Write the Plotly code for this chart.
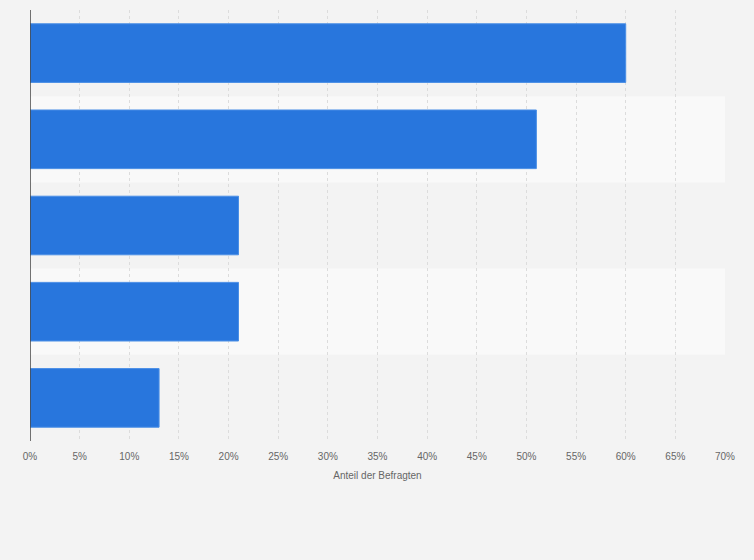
import plotly.graph_objects as go

categories = ["Kategorie 1", "Kategorie 2", "Kategorie 3", "Kategorie 4", "Kategorie 5"]
values = [60, 51, 21, 21, 13]
tick_vals = list(range(0, 75, 5))
tick_text = [f"{v}%" for v in tick_vals]

fig = go.Figure()
fig.add_trace(go.Bar(
    x=values, y=categories, orientation="h",
    marker=dict(color="#2876dd", line=dict(color="#4a8fe6", width=1)),
    width=0.68, hoverinfo="x+y",
))

shapes = []
for i, c in enumerate(categories):
    if i % 2 == 1:
        shapes.append(dict(type="rect", xref="x", yref="y", x0=0, x1=70,
                           y0=i - 0.5, y1=i + 0.5, fillcolor="#f9f9f9",
                           line=dict(width=0), layer="below"))

fig.update_layout(
    width=754, height=560,
    paper_bgcolor="#f3f3f3", plot_bgcolor="#f3f3f3",
    margin=dict(l=30, r=29, t=10, b=119),
    showlegend=False,
    shapes=shapes,
    font=dict(family="Liberation Sans, Arial, sans-serif", color="#666666", size=10),
    xaxis=dict(
        range=[0, 70], tickvals=tick_vals, ticktext=tick_text,
        showgrid=True, gridcolor="#dcdcdc", griddash="dot", gridwidth=1,
        zeroline=False, showline=False,
        ticks="outside", ticklen=6, tickcolor="rgba(0,0,0,0)",
        tickfont=dict(size=10, color="#666666"),
        title=dict(text="Anteil der Befragten", font=dict(size=10, color="#666666"), standoff=10),
    ),
    yaxis=dict(
        autorange="reversed", showticklabels=False, showgrid=False,
        zeroline=False, showline=False, ticks="",
    ),
)
fig.add_shape(type="line", xref="x", yref="paper", x0=0, x1=0, y0=0, y1=1,
              line=dict(color="#444444", width=1.5))

fig.write_html("out.html", config={"displayModeBar": False},
               post_script="document.body.style.margin='0';document.body.style.background='#f3f3f3';")
